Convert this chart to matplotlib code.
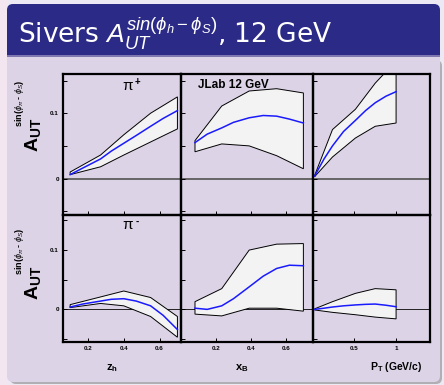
import matplotlib
matplotlib.use("Agg")
import matplotlib.pyplot as plt
from matplotlib.patches import FancyBboxPatch, Rectangle
from matplotlib.ticker import FixedLocator

plt.rcParams['font.family'] = ['Liberation Sans', 'DejaVu Sans']
plt.rcParams['mathtext.fontset'] = 'custom'
plt.rcParams['mathtext.rm'] = 'Liberation Sans'
plt.rcParams['mathtext.it'] = 'Liberation Sans:italic'
plt.rcParams['mathtext.bf'] = 'Liberation Sans:bold'

# ---- data ----
# band nodes and curves vs z_h
z_nodes = [0.1, 0.27, 0.4, 0.55, 0.7]
z_curve = [0.1, 0.17, 0.27, 0.33, 0.4, 0.47, 0.55, 0.62, 0.7]
pip_z_up = [0.010, 0.036, 0.067, 0.100, 0.125]
pip_z_lo = [0.006, 0.018, 0.036, 0.056, 0.076]
pip_z_mid = [0.006, 0.016, 0.030, 0.042, 0.054, 0.066, 0.080, 0.092, 0.104]
pim_z_up = [0.008, 0.021, 0.031, 0.020, -0.012]
pim_z_lo = [0.003, 0.010, 0.006, -0.012, -0.047]
pim_z_mid = [0.004, 0.009, 0.014, 0.017, 0.018, 0.014, 0.006, -0.010, -0.034]

# vs x_B
x_nodes = [0.08, 0.233, 0.39, 0.547, 0.70]
x_curve = [0.08, 0.15, 0.233, 0.30, 0.39, 0.47, 0.547, 0.62, 0.70]
pip_x_up = [0.058, 0.111, 0.134, 0.1375, 0.131]
pip_x_lo = [0.041, 0.053, 0.050, 0.035, 0.015]
pip_x_mid = [0.055, 0.068, 0.0775, 0.086, 0.093, 0.0965, 0.0955, 0.091, 0.085]
pim_x_up = [0.013, 0.035, 0.100, 0.110, 0.111]
pim_x_lo = [-0.008, -0.011, 0.002, 0.002, -0.003]
pim_x_mid = [0.002, 0.000, 0.006, 0.018, 0.038, 0.056, 0.069, 0.0745, 0.0736]

# vs P_T
pt_nodes = [0.04, 0.25, 0.52, 0.754, 1.0]
pt_curve = [0.04, 0.15, 0.25, 0.38, 0.52, 0.64, 0.754, 0.88, 1.0]
pip_pt_up = [0.005, 0.075, 0.106, 0.146, 0.180]
pip_pt_lo = [0.003, 0.033, 0.062, 0.080, 0.085]
pip_pt_mid = [0.004, 0.030, 0.050, 0.072, 0.089, 0.104, 0.116, 0.126, 0.133]
pim_pt_up = [0.001, 0.013, 0.027, 0.035, 0.033]
pim_pt_lo = [-0.001, -0.005, -0.009, -0.013, -0.016]
pim_pt_mid = [0.000, 0.002, 0.004, 0.006, 0.0075, 0.0085, 0.009, 0.007, 0.0045]

W, H = 444, 385
fig = plt.figure(figsize=(W / 100, H / 100), dpi=100)
fig.patch.set_facecolor('#ece8f4')


def px(x0, y0, w, h):
    return [x0 / W, 1 - (y0 + h) / H, w / W, h / H]


bg = fig.add_axes([0, 0, 1, 1])
bg.set_xlim(0, W)
bg.set_ylim(H, 0)
bg.axis('off')
bg.add_patch(Rectangle((0, 0), 8, H, color='#f4e6f0', lw=0))
# shadow, content box, title bar
bg.add_patch(FancyBboxPatch((10, 60), 432, 324, boxstyle='round,pad=0,rounding_size=6',
                            fc='#8a8a8a', ec='none', alpha=0.6))
bg.add_patch(FancyBboxPatch((7, 40), 433, 342, boxstyle='round,pad=0,rounding_size=6',
                            fc='#dcd3e7', ec='none'))
bg.add_patch(FancyBboxPatch((7, 4), 433, 51, boxstyle='round,pad=0,rounding_size=6',
                            fc='#2b2a86', ec='none'))
bg.add_patch(Rectangle((7, 40), 433, 15, color='#2b2a86', lw=0))
bg.add_patch(Rectangle((7, 55), 433, 2, color='#7f78b0', lw=0))
bg.text(18, 43, r'Sivers $\mathit{A}_{\mathit{UT}}^{\mathit{sin}(\phi_h - \phi_S)}$, 12 GeV',
        color='white', fontsize=19, va='baseline', ha='left', family='DejaVu Sans')

cols = [(63, 118), (181, 132), (313, 117)]
rows = [(74, 140.5), (214.5, 127.5)]
xlims = [(0.06, 0.72), (0.0, 0.755), (0.02, 1.4)]
xticks = [[0.2, 0.4, 0.6], [0.2, 0.4, 0.6], [0.5, 1.0]]
xticklabels = [['0.2', '0.4', '0.6'], ['0.2', '0.4', '0.6'], ['0.5', '1']]

panels = [
    [(z_nodes, pip_z_up, pip_z_lo, z_curve, pip_z_mid),
     (x_nodes, pip_x_up, pip_x_lo, x_curve, pip_x_mid),
     (pt_nodes, pip_pt_up, pip_pt_lo, pt_curve, pip_pt_mid)],
    [(z_nodes, pim_z_up, pim_z_lo, z_curve, pim_z_mid),
     (x_nodes, pim_x_up, pim_x_lo, x_curve, pim_x_mid),
     (pt_nodes, pim_pt_up, pim_pt_lo, pt_curve, pim_pt_mid)],
]

for r, (y0, h) in enumerate(rows):
    for c, (x0, w) in enumerate(cols):
        ax = fig.add_axes(px(x0, y0, w, h))
        ax.set_facecolor('none')
        xs, up, lo, xc, mid = panels[r][c]
        ax.fill(list(xs) + list(xs[::-1]), list(up) + list(lo[::-1]),
                fc='#f3f3f3', ec='black', lw=0.7, zorder=2)
        ax.plot(xc, mid, color='#1a1aff', lw=1.1, zorder=3)
        if r == 0:
            ax.axhline(0, color='#666666', lw=1.4, zorder=1)
        else:
            ax.axhline(0, color='#222222', lw=0.7, zorder=1)
        ax.set_xlim(*xlims[c])
        ax.set_ylim(-0.055, 0.16)
        for s in ax.spines.values():
            s.set_linewidth(1.6)
        ax.yaxis.set_major_locator(FixedLocator([0, 0.1]))
        ax.yaxis.set_minor_locator(FixedLocator([-0.05, 0.05, 0.15]))
        ax.xaxis.set_major_locator(FixedLocator(xticks[c]))
        ax.tick_params(which='both', direction='in', length=3, width=0.7,
                       top=False, right=False, pad=3)
        if c == 0:
            ax.set_yticklabels(['0', '0.1'], fontsize=4.5, fontweight='bold')
        else:
            ax.set_yticklabels([])
        if r == 1:
            ax.set_xticklabels(xticklabels[c], fontsize=4.5, fontweight='bold')
        else:
            ax.set_xticklabels([])
        if c == 0:
            sign = '+' if r == 0 else '-'
            ax.text(0.55, 0.915, 'π', transform=ax.transAxes, fontsize=11,
                    ha='center', va='center')
            ax.text(0.63, 0.94, sign, transform=ax.transAxes, fontsize=7,
                    fontweight='bold', ha='center', va='center')
        if r == 0 and c == 1:
            ax.text(0.13, 0.92, 'JLab 12 GeV', transform=ax.transAxes, fontsize=8.5,
                    fontweight='bold', ha='left', va='center')

# y labels: big A_UT with a small superscript
for yc in (0, 148):
    fig.text(32.5 / W, 1 - (135 + yc) / H, r'$\mathbf{A}_{\mathbf{UT}}$', rotation=90,
             fontsize=14, ha='center', va='center')
    fig.text(19.5 / W, 1 - (103 + yc) / H, r'sin($\phi_{\pi}$ - $\phi_{S}$)', rotation=90,
             fontsize=6.5, fontweight='bold', ha='center', va='center')

fig.text(112 / W, 1 - 368 / H, r'$\mathbf{z_h}$', fontsize=8, ha='center', va='center')
fig.text(242 / W, 1 - 368 / H, r'$\mathbf{x_B}$', fontsize=8, ha='center', va='center')
fig.text(396 / W, 1 - 367 / H, r'$\mathbf{P_T}$ (GeV/c)', fontsize=7.5,
         fontweight='bold', ha='center', va='center')

fig.savefig('out.png', dpi=100)
